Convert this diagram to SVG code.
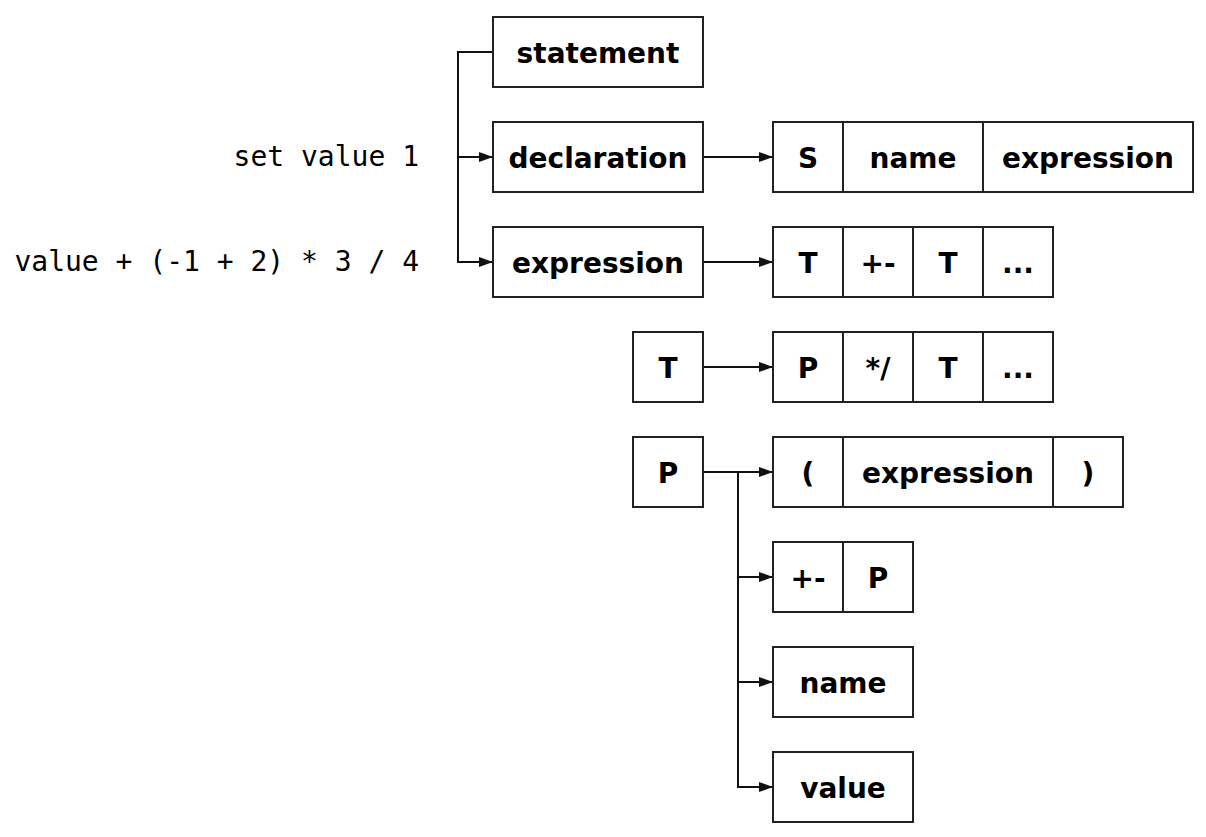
<svg xmlns="http://www.w3.org/2000/svg" width="1206" height="837" viewBox="0 0 1206 837">
<defs>
<marker id="arr" viewBox="0 0 14 10" refX="14" refY="5" markerWidth="14" markerHeight="10" markerUnits="userSpaceOnUse" orient="auto">
<path d="M0,0 L14,5 L0,10 Z" fill="#111"/>
</marker>
<style>
.b{fill:#fff;stroke:#222;stroke-width:2}
.d{stroke:#222;stroke-width:2}
.t{font-family:"DejaVu Sans",Verdana,sans-serif;font-weight:bold;font-size:28px;fill:#000;text-anchor:middle}
.m{font-family:"DejaVu Sans Mono","Liberation Mono",monospace;font-size:28px;fill:#000;text-anchor:end}
.c{fill:none;stroke:#111;stroke-width:2}
</style>
</defs>
<rect width="1206" height="837" fill="#fff"/>
<g id="labels">
<text class="m" x="419" y="166">set value 1</text>
<text class="m" x="419" y="271">value + (-1 + 2) * 3 / 4</text>
</g>
<g id="connectors">
<path class="c" d="M493,52 H458 V262 H493" marker-end="url(#arr)"/>
<path class="c" d="M458,157 H493" marker-end="url(#arr)"/>
<path class="c" d="M703,157 H773" marker-end="url(#arr)"/>
<path class="c" d="M703,262 H773" marker-end="url(#arr)"/>
<path class="c" d="M703,367 H773" marker-end="url(#arr)"/>
<path class="c" d="M703,472 H773" marker-end="url(#arr)"/>
<path class="c" d="M738,472 V787 H773" marker-end="url(#arr)"/>
<path class="c" d="M738,577 H773" marker-end="url(#arr)"/>
<path class="c" d="M738,682 H773" marker-end="url(#arr)"/>
</g>
<g id="statement"><rect class="b" x="493" y="17" width="210" height="70"/><text class="t" x="598" y="63">statement</text></g>
<g id="declaration"><rect class="b" x="493" y="122" width="210" height="70"/><text class="t" x="598" y="168">declaration</text></g>
<g id="expression"><rect class="b" x="493" y="227" width="210" height="70"/><text class="t" x="598" y="273">expression</text></g>
<g id="decl-seq">
<rect class="b" x="773" y="122" width="420" height="70"/>
<line class="d" x1="843" y1="122" x2="843" y2="192"/><line class="d" x1="983" y1="122" x2="983" y2="192"/>
<text class="t" x="808" y="168">S</text><text class="t" x="913" y="168">name</text><text class="t" x="1088" y="168">expression</text>
</g>
<g id="expr-seq">
<rect class="b" x="773" y="227" width="280" height="70"/>
<line class="d" x1="843" y1="227" x2="843" y2="297"/><line class="d" x1="913" y1="227" x2="913" y2="297"/><line class="d" x1="983" y1="227" x2="983" y2="297"/>
<text class="t" x="808" y="273">T</text><text class="t" x="878" y="273">+-</text><text class="t" x="948" y="273">T</text><text class="t" x="1018" y="273">...</text>
</g>
<g id="T"><rect class="b" x="633" y="332" width="70" height="70"/><text class="t" x="668" y="378">T</text></g>
<g id="term-seq">
<rect class="b" x="773" y="332" width="280" height="70"/>
<line class="d" x1="843" y1="332" x2="843" y2="402"/><line class="d" x1="913" y1="332" x2="913" y2="402"/><line class="d" x1="983" y1="332" x2="983" y2="402"/>
<text class="t" x="808" y="378">P</text><text class="t" x="878" y="378">*/</text><text class="t" x="948" y="378">T</text><text class="t" x="1018" y="378">...</text>
</g>
<g id="P"><rect class="b" x="633" y="437" width="70" height="70"/><text class="t" x="668" y="483">P</text></g>
<g id="paren-seq">
<rect class="b" x="773" y="437" width="350" height="70"/>
<line class="d" x1="843" y1="437" x2="843" y2="507"/><line class="d" x1="1053" y1="437" x2="1053" y2="507"/>
<text class="t" x="808" y="483">(</text><text class="t" x="948" y="483">expression</text><text class="t" x="1088" y="483">)</text>
</g>
<g id="unary-seq">
<rect class="b" x="773" y="542" width="140" height="70"/>
<line class="d" x1="843" y1="542" x2="843" y2="612"/>
<text class="t" x="808" y="588">+-</text><text class="t" x="878" y="588">P</text>
</g>
<g id="name"><rect class="b" x="773" y="647" width="140" height="70"/><text class="t" x="843" y="693">name</text></g>
<g id="value"><rect class="b" x="773" y="752" width="140" height="70"/><text class="t" x="843" y="798">value</text></g>
</svg>
